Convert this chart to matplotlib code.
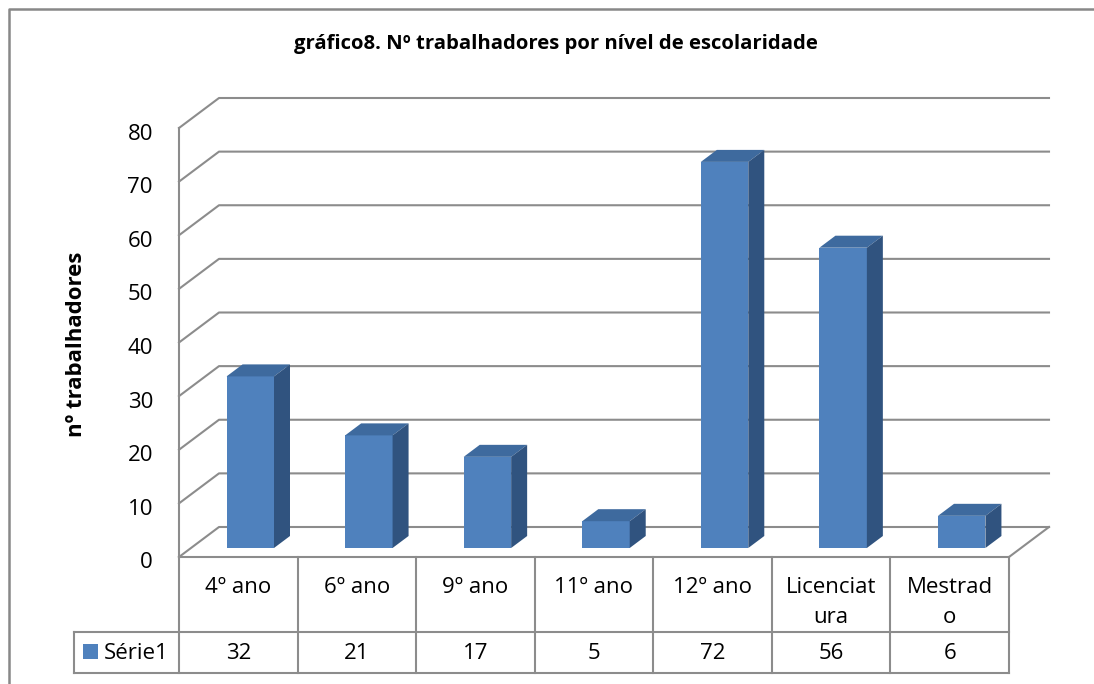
import matplotlib.pyplot as plt
from matplotlib.patches import Polygon, Rectangle
from matplotlib.lines import Line2D

# %%
categories = ['4º ano', '6º ano', '9º ano', '11º ano', '12º ano', 'Licenciat\nura', 'Mestrad\no']
values = [32, 21, 17, 5, 72, 56, 6]
yticks = [0, 10, 20, 30, 40, 50, 60, 70, 80]
series_name = 'Série1'
title = 'gráfico8. Nº trabalhadores por nível de escolaridade'
ylabel = 'nº trabalhadores'

# %%
plt.rcParams['font.family'] = ['Open Sans', 'DejaVu Sans']

W, H = 1094, 684
fig = plt.figure(figsize=(W / 100, H / 100), dpi=100)
ax = fig.add_axes([179 / W, (H - 557) / H, 830 / W, 429 / H])
n = len(categories)
ax.set_xlim(0, n)
ax.set_ylim(0, 80)
ax.axis('off')

cw = 830 / n
vh = 429 / 80


def px(x):
    return (x - 179) / cw


def py(y):
    return (557 - y) / vh


DX, DY = 40 / cw, 30 / vh
grid_c = '#8c8c8c'
lw = 1.5
front_c, top_c, side_c = '#4F81BD', '#3E6A9E', '#30537F'

# walls and gridlines
for v in yticks:
    ax.plot([0, DX, n + DX], [v, v + DY, v + DY], color=grid_c, lw=lw,
            clip_on=False, zorder=1)
ax.plot([0, 0], [0, 80], color=grid_c, lw=lw, clip_on=False, zorder=1)
ax.plot([n, n + DX], [0, DY], color=grid_c, lw=lw, clip_on=False, zorder=1)

for v in yticks:
    ax.text(px(153), v - 11.5 / vh, str(v), ha='right', va='baseline',
            fontsize=16, color='black')

# bars
for i, v in enumerate(values):
    w = 0.4
    x0 = i + 0.5 - w / 2 + 0.3 * DX
    y0 = 0.3 * DY
    dx, dy = 0.4 * DX, 0.4 * DY
    ax.add_patch(Rectangle((x0, y0), w, v, fc=front_c, ec='none', zorder=3, clip_on=False))
    ax.add_patch(Polygon([(x0, y0 + v), (x0 + w, y0 + v), (x0 + w + dx, y0 + v + dy),
                          (x0 + dx, y0 + v + dy)], closed=True, fc=top_c, ec='none',
                         zorder=3, clip_on=False))
    ax.add_patch(Polygon([(x0 + w, y0), (x0 + w + dx, y0 + dy), (x0 + w + dx, y0 + v + dy),
                          (x0 + w, y0 + v)], closed=True, fc=side_c, ec='none',
                         zorder=3, clip_on=False))

# data table
r1, r2, left = py(632), py(673), px(74)
tkw = dict(color=grid_c, lw=lw, clip_on=False, zorder=2)
ax.plot([0, n], [0, 0], **tkw)
ax.plot([left, n], [r1, r1], **tkw)
ax.plot([left, n], [r2, r2], **tkw)
ax.plot([left, left], [r1, r2], **tkw)
for i in range(n + 1):
    ax.plot([i, i], [0, r2], **tkw)

for i, (cat, v) in enumerate(zip(categories, values)):
    for j, line in enumerate(cat.split('\n')):
        ax.text(i + 0.5, py(593 + 30 * j), line, ha='center', va='baseline', fontsize=16)
    ax.text(i + 0.5, py(659), str(v), ha='center', va='baseline', fontsize=16)

ax.add_patch(Rectangle((px(83), py(659)), px(98) - px(83), py(644) - py(659),
                       fc=front_c, ec='none', clip_on=False))
ax.text(px(104), py(659), series_name, ha='left', va='baseline', fontsize=16)

# titles
fig.text(556 / W, 1 - 49 / H, title, ha='center', va='baseline', fontsize=14.6, fontweight='bold')
fig.text(76 / W, 1 - 344 / H, ylabel, rotation=90, ha='center', va='center',
         fontsize=16, fontweight='bold')

# chart border
fig.add_artist(Line2D([8.5 / W, 8.5 / W, 1], [0, 1 - 8.5 / H, 1 - 8.5 / H],
                      transform=fig.transFigure, color='#888888', lw=1.8))

plt.savefig('out.png', dpi=100)
